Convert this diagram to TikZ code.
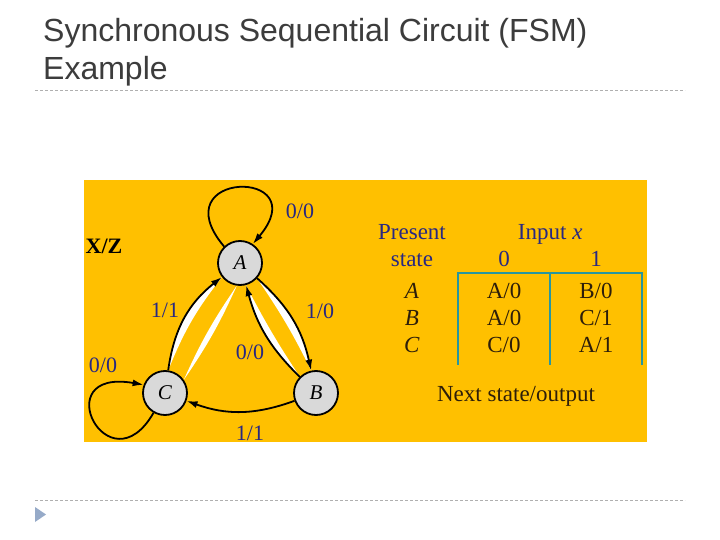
\documentclass[tikz,border=0pt]{standalone}
\usepackage{fontspec}
\setmainfont{Liberation Serif}
\newfontfamily\titlefont{Liberation Sans}
\usetikzlibrary{arrows.meta,positioning,matrix}

\definecolor{slidebg}{RGB}{255,192,0}
\definecolor{lblblue}{RGB}{40,40,130}
\definecolor{tabteal}{RGB}{40,150,160}
\definecolor{txtdark}{RGB}{45,30,10}
\definecolor{titlegray}{RGB}{60,60,60}
\definecolor{rulegray}{RGB}{175,175,175}
\definecolor{bulletblue}{RGB}{150,170,200}
\definecolor{statefill}{RGB}{217,217,217}

\tikzset{
  state/.style={circle, draw, line width=1.8pt, fill=statefill, minimum size=44pt,
    inner sep=0pt, font=\fontsize{21}{21}\selectfont\itshape},
  trans/.style={line width=1.8pt, -{Latex[length=11pt,width=7pt]}},
  crescent/.style={fill=white},
  lbl/.style={text=lblblue, font=\fontsize{22}{22}\selectfont, inner sep=0pt},
  tabcell/.style={minimum width=92pt, text height=21pt, text depth=6pt, inner sep=0pt,
    font=\fontsize{23}{23}\selectfont, text=txtdark},
  tabhead/.style={tabcell, text=lblblue},
  tabline/.style={draw=tabteal, line width=1.8pt},
  rulerline/.style={draw=rulegray, dash pattern=on 3pt off 2pt, line width=0.8pt},
  titletext/.style={text=titlegray, font=\titlefont\fontsize{32}{32}\selectfont, inner sep=0pt},
}

\begin{document}
\begin{tikzpicture}[x=1pt, y=1pt]
\useasboundingbox (0,0) rectangle (720,-540);
\fill[white] (0,0) rectangle (720,-540);

% slide frame
\node[titletext, anchor=base west] (title) at (43,-42) {Synchronous Sequential Circuit (FSM)};
\node[titletext, anchor=base west] (subtitle) at (43,-80) {Example};
\draw[rulerline] (35,-90) -- (685,-90);
\draw[rulerline] (35,-500) -- (685,-500);
\fill[bulletblue] (35,-507) -- (46,-514.5) -- (35,-522) -- cycle;

\fill[slidebg] (84,-180) rectangle (647,-442);

% state diagram
\node[state] (A) at (240,-263) {A};
\node[state] (C) at (165,-393) {C};
\node[state] (B) at (316,-393) {B};

\fill[crescent] (A.318) to[bend left=18] (B.102) to[bend right=4] (A.318) -- cycle;
\fill[crescent] (B.135) to[bend left=15] (A.285) to[bend right=3] (B.135) -- cycle;
\fill[crescent] (C.82) to[bend left=22] (A.218) to[bend right=8] (C.82) -- cycle;
\fill[crescent] (A.262) to[bend left=5] (C.35) to[bend left=5] (A.262) -- cycle;

\draw[trans] (A.134) to[out=130, in=50, distance=100pt] (A.56);
\draw[trans] (C.240) to[out=240, in=170, out distance=90pt, in distance=100pt] (C.159);
\draw[trans] (A) to[bend left=18] (B);
\draw[trans] (B) to[bend left=15] (A);
\draw[trans] (C) to[bend left=22] (A);
\draw[trans] (B) to[bend left=20] (C);

\node[lbl] (l-aa) at (300,-211) {0/0};
\node[lbl] (l-ab) at (320,-311) {1/0};
\node[lbl] (l-ba) at (250,-352) {0/0};
\node[lbl] (l-ca) at (165,-310) {1/1};
\node[lbl] (l-bc) at (250,-433) {1/1};
\node[lbl] (l-cc) at (103,-365) {0/0};
\node[inner sep=0pt, font=\fontsize{22}{22}\selectfont\bfseries] (xz) at (104,-246) {X/Z};

% state table
\matrix (tab) [matrix of nodes, column sep=0pt, row sep=0pt, nodes={tabcell}] at (504,-302) {
|[tabhead]| state & |[tabhead]| 0 & |[tabhead]| 1 \\[5pt]
\textit{A} & A/0 & B/0 \\
\textit{B} & A/0 & C/1 \\
\textit{C} & C/0 & A/1 \\
};
\node[tabhead, above=0pt of tab-1-1] (present) {Present};
\node[tabhead, anchor=south] (input) at (tab-1-2.north east) {Input \textit{x}};
\draw[tabline] ([yshift=-6pt]tab-4-2.south west) -- (tab-1-2.south west)
  -- (tab-1-3.south east) -- ([yshift=-6pt]tab-4-3.south east);
\draw[tabline] ([yshift=-6pt]tab-4-3.south west) -- (tab-1-3.south west);
\node[tabcell] (nextout) at (516,-394) {Next state/output};
\end{tikzpicture}
\end{document}
